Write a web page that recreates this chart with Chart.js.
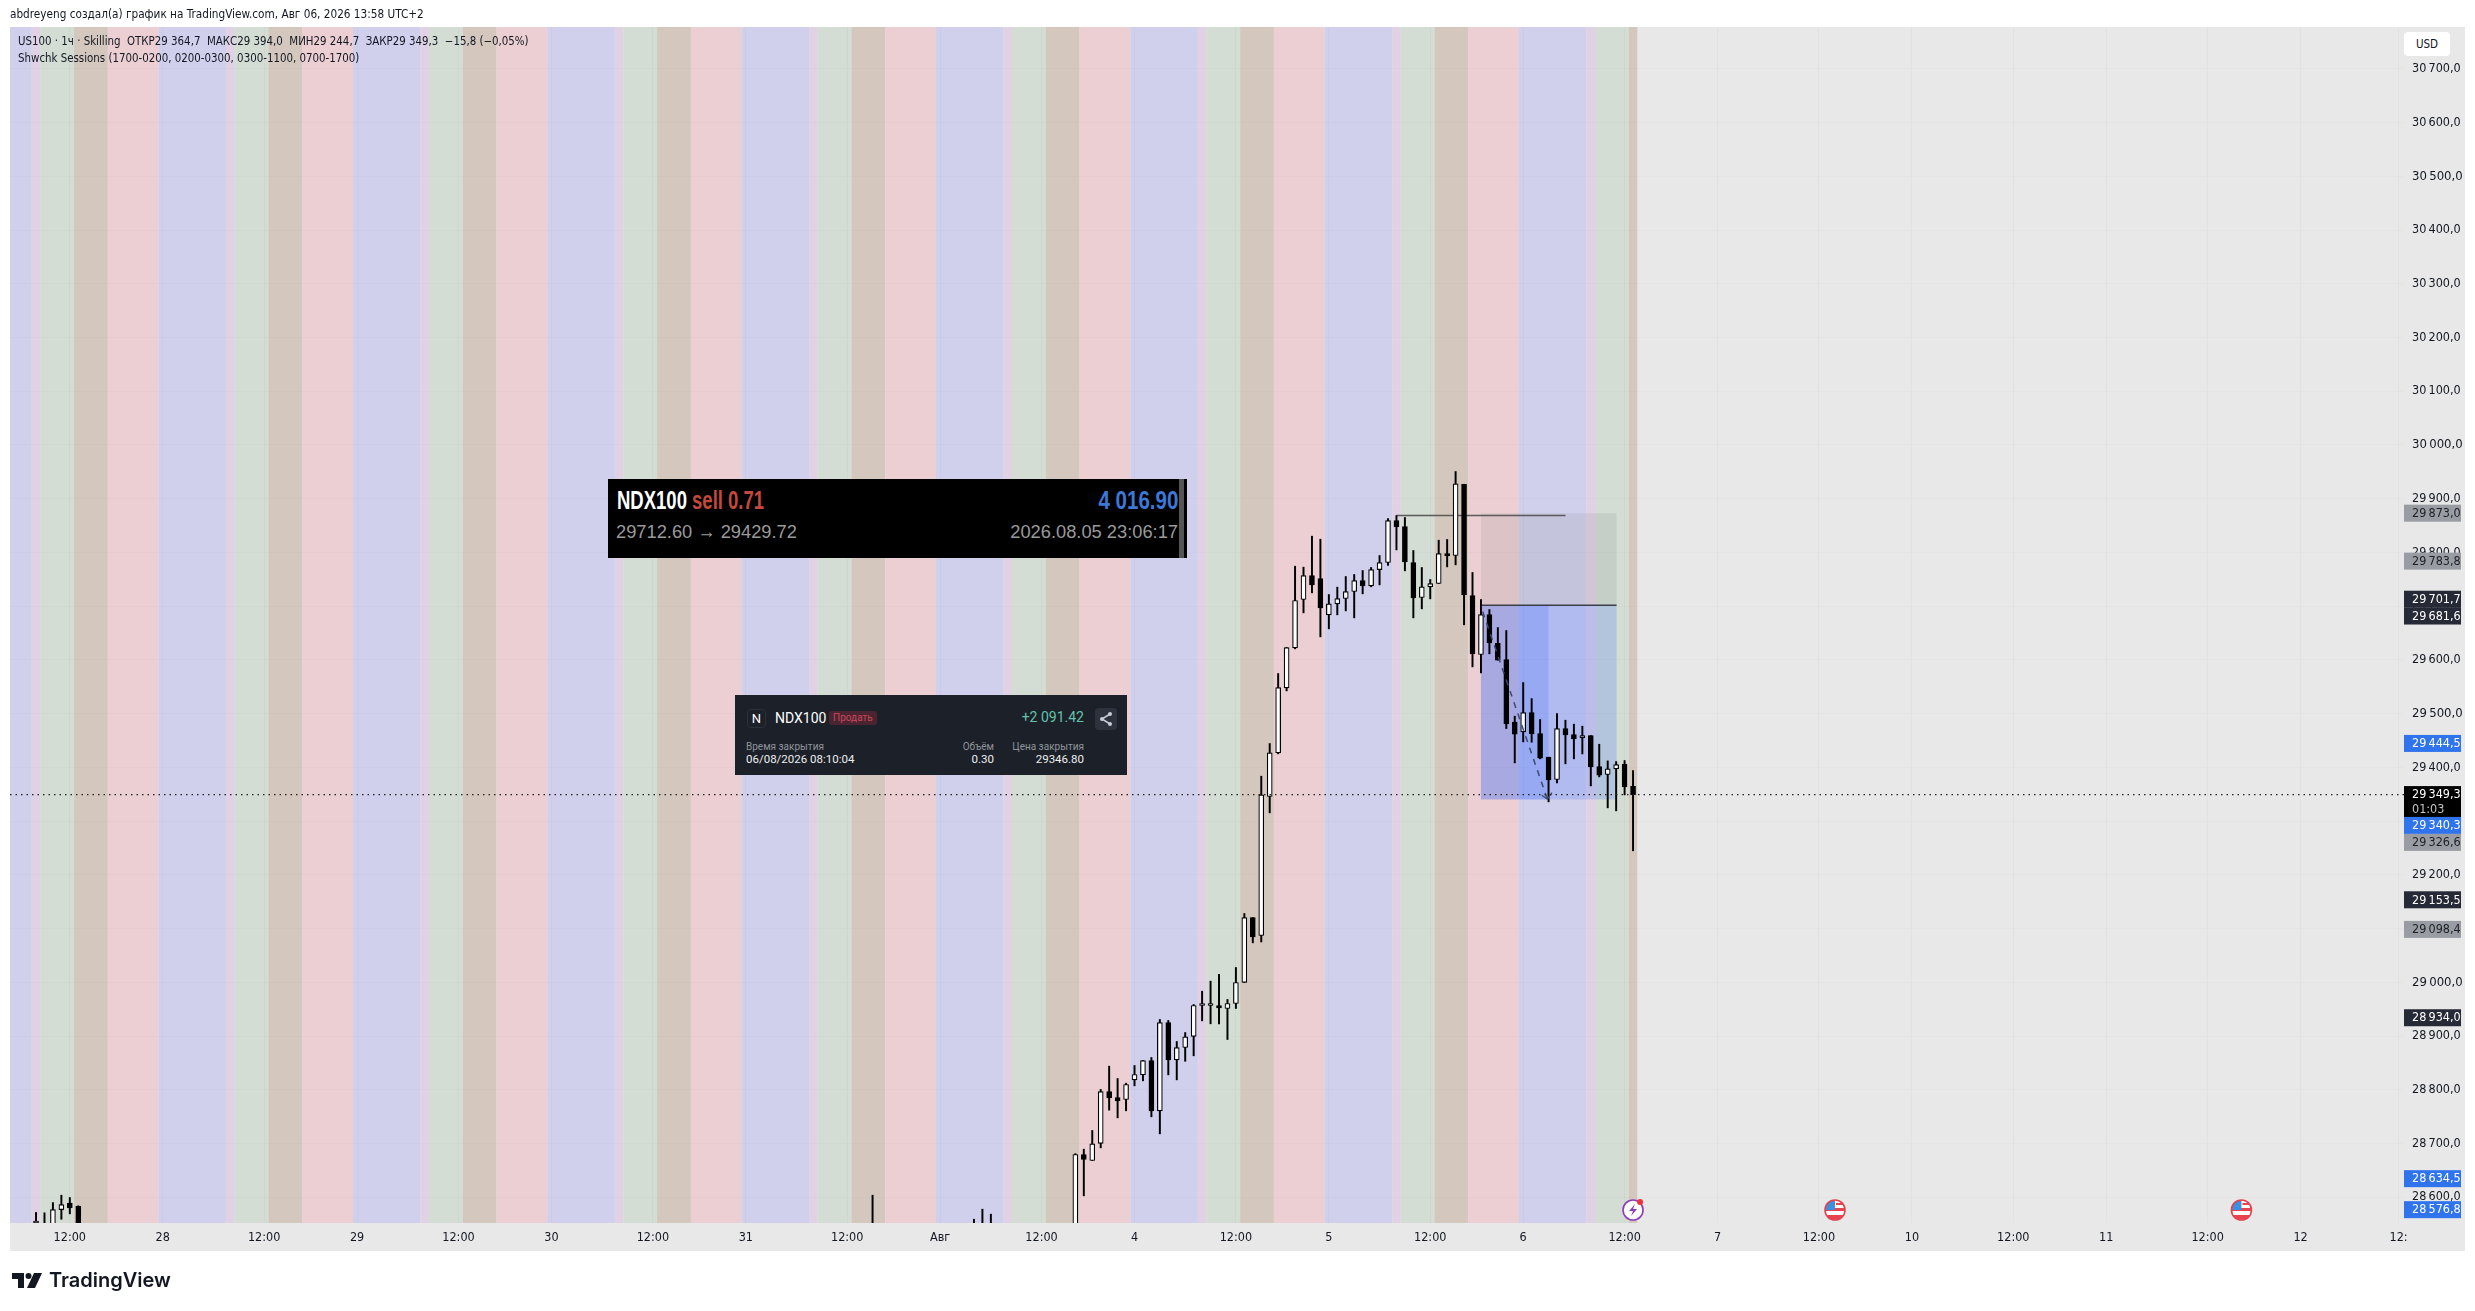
<!doctype html>
<html>

<head>
    <title>US100 1h</title>
    <meta charset="utf-8">
    <script src="https://cdn.jsdelivr.net/npm/chart.js@4/dist/chart.umd.js"></script>
    <style>
    html, body { margin: 0; padding: 0; background: #fff; }
    body { width: 2475px; height: 1311px; position: relative; overflow: hidden; font-family: "DejaVu Sans Condensed", "DejaVu Sans", sans-serif; color: #131722; }
    canvas { position: absolute; left: 0; top: 0; }
    .abs { position: absolute; white-space: pre; line-height: 1; }
    .card1 { position: absolute; left: 608px; top: 479px; width: 579px; height: 79px; background: #000; }
    .card2 { position: absolute; left: 735px; top: 695px; width: 392px; height: 80px; background: #1c2028; }
    .narrow { font-family: "Liberation Sans", sans-serif; font-weight: bold; font-size: 25px; }
    .lib { font-family: "Liberation Sans", sans-serif; font-size: 18.3px; color: #9a9a9a; }
    .rob { font-family: "Roboto", sans-serif; }
    </style>
</head>

<body>
    <canvas id="chart" width="2475" height="1311"></canvas>

    <div class="abs" style="left:10px; top:9px; font-size:11.7px;">abdreyeng создал(а) график на TradingView.com, Авг 06, 2026 13:58 UTC+2</div>
    <div class="abs" style="left:18px; top:36px; font-size:11.4px;">US100 · 1ч · Skilling  ОТКР29 364,7  МАКС29 394,0  МИН29 244,7  ЗАКР29 349,3  −15,8 (−0,05%)</div>
    <div class="abs" style="left:18px; top:53px; font-size:11.4px;">Shwchk Sessions (1700-0200, 0200-0300, 0300-1100, 0700-1700)</div>

    <div class="abs" style="left:2404px; top:32px; width:46px; height:24px; line-height:24px; background:#fff; border-radius:4px; text-align:center; font-size:11.5px;">USD</div>

    <div class="card1">
        <div class="abs" style="right:3px; top:0; width:5px; height:79px; background:#555;"></div>
        <div class="abs narrow" style="left:9px; top:9px; color:#fff; transform:scaleX(0.74); transform-origin:left;">NDX100 <span style="color:#c4493c;">sell 0.71</span></div>
        <div class="abs narrow" style="right:9px; top:9px; color:#3c78d8; transform:scaleX(0.82); transform-origin:right;">4 016.90</div>
        <div class="abs lib" style="left:8px; top:44px;">29712.60 → 29429.72</div>
        <div class="abs lib" style="right:9px; top:44px;">2026.08.05 23:06:17</div>
    </div>

    <div class="card2 rob">
        <div class="abs" style="left:12px; top:14px; width:17px; height:17px; line-height:17px; text-align:center; border:1px solid #2c3038; border-radius:4px; font-size:13px; color:#fff;">N</div>
        <div class="abs" style="left:40px; top:16px; font-size:14px; color:#fff;">NDX100</div>
        <div class="abs" style="left:94px; top:16px; padding:2px 4px; background:#4a2531; border-radius:3px; font-size:10px; color:#c9465a;">Продать</div>
        <div class="abs" style="right:43px; top:15px; font-size:14px; color:#62c3aa;">+2 091.42</div>
        <div class="abs" style="right:10px; top:13px; width:22px; height:22px; background:#2e323c; border-radius:4px;"><svg width="22" height="22" viewBox="0 0 22 22"><path d="M15 6 L7 11 L15 16" fill="none" stroke="#c8ccd4" stroke-width="1.5"/><circle cx="15" cy="6" r="2" fill="#c8ccd4"/><circle cx="7" cy="11" r="2" fill="#c8ccd4"/><circle cx="15" cy="16" r="2" fill="#c8ccd4"/></svg></div>
        <div class="abs" style="left:11px; top:47px; font-size:10px; color:#8f949c;">Время закрытия</div>
        <div class="abs" style="left:11px; top:59px; font-size:11.5px; color:#eceef0;">06/08/2026 08:10:04</div>
        <div class="abs" style="right:133px; top:47px; font-size:10px; color:#8f949c;">Объём</div>
        <div class="abs" style="right:133px; top:59px; font-size:11.5px; color:#eceef0;">0.30</div>
        <div class="abs" style="right:43px; top:47px; font-size:10px; color:#8f949c;">Цена закрытия</div>
        <div class="abs" style="right:43px; top:59px; font-size:11.5px; color:#eceef0;">29346.80</div>
    </div>

    <svg class="abs" style="left:12px; top:1273px;" width="30" height="15" viewBox="0 0 30 15">
        <path d="M0 0 H12 V15 H6 V6 H0 Z" fill="#131722"/><circle cx="16.5" cy="3" r="3" fill="#131722"/><path d="M22 0 H30 L23 15 H15 Z" fill="#131722"/>
    </svg>
    <div class="abs" style="left:49px; top:1270px; font-family:Inter, sans-serif; font-weight:600; font-size:20px; color:#131722;">TradingView</div>

    <script>
    // bars are numbered in trading hours: 0 = 27 Jul 12:00, 185 = 6 Aug 13:00 (23 bars a day)
    var barX = [-4,-3,-2,-1,0,1,95,107,108,109,
        119,120,121,122,123,124,125,126,127,128,129,130,131,132,133,134,135,136,137,138,139,140,141,142,143,144,145,146,147,148,
        149,150,151,152,153,154,155,156,157,158,159,160,161,162,163,164,165,166,167,168,169,170,171,172,173,174,175,176,177,178,179,180,181,182,183,184,185];
    var opens = [28530,28530,28530,28577,28588.9,28583,28530,28530,28530,28530,
        28520,28679.5,28668.3,28700,28796.7,28785.6,28781.8,28818.4,28827.8,28854.4,28760.8,28925.1,28855.7,28878.6,28899.1,28956.8,28956.8,28956.8,28951.2,28960.5,28999.6,29120.5,29087,29345.7,29427,29547.9,29622.4,29712.3,29757,29751.4,
        29683.8,29704.3,29714.2,29727.2,29747.7,29737.7,29768.1,29781.2,29859.3,29848.2,29781.2,29716,29735.9,29742.1,29797.9,29794.2,29926.9,29719.8,29610,29684.4,29631,29600.7,29484,29466,29502,29462.9,29418.9,29377.3,29472.2,29461,29454.8,29459.2,29401.5,29386.6,29397.2,29405.9,29364.7];
    var highs = [28571.6,28571,28590,28603.7,28599.4,28584,28603.7,28559,28577.7,28568.4,
        28681,28689.4,28724.2,28800.5,28843.9,28820.9,28812.2,28845.1,28854.4,28860,28930.7,28928.9,28889.8,28906.5,28958.6,28983.4,29002,29015,28968,29027.5,29128,29120.5,29383.5,29444.3,29574.6,29623,29774.3,29772.5,29830.2,29824.6,
        29721.6,29735.3,29755.1,29758.8,29766.3,29771.9,29794.2,29863,29868.6,29864.9,29803.5,29771.9,29749.5,29822.7,29824,29950.5,29926.9,29762.6,29712.3,29693.7,29660.2,29654.6,29495.2,29557.8,29528,29489,29418.9,29500.1,29487.7,29480.3,29476.6,29459.2,29443,29412,29410.8,29412.7,29394];
    var lows = [28500,28500,28510,28559,28569,28510,28500,28510,28510,28510,
        28500,28602.6,28668.3,28691.9,28762,28747.7,28760.8,28807.3,28816.6,28749.6,28717.9,28827.7,28818.4,28853,28863.1,28928.2,28922.7,28922.7,28893.5,28951.2,28999.6,29073.4,29075,29315.3,29425.1,29542.3,29620.5,29687.5,29724.7,29642.8,
        29657.7,29683.8,29691.2,29678.2,29722.9,29735.9,29739.6,29775.6,29804.7,29765.7,29678.2,29695,29713.6,29742.1,29773.1,29776.8,29665.2,29587,29575.8,29611.2,29599.4,29472.2,29408.3,29447.4,29446.8,29415.8,29335.8,29371.1,29406.5,29415.8,29425,29365.5,29382.3,29324.6,29319,29348.8,29244.7];
    var closes = [28530,28525,28577,28586.4,28580,28530,28520,28525,28525,28525,
        28679.5,28670.2,28699.4,28796.7,28785,28779.4,28809.8,28828.4,28854.4,28760.8,28925.1,28855.7,28878.6,28898.5,28956.8,28957.3,28957.2,28952.4,28960.5,28999.6,29120.5,29084.5,29348.8,29427,29548.5,29623,29710.5,29757,29739.6,29696.8,
        29704.3,29714.2,29727.2,29747.7,29737.7,29768.1,29781.2,29859.3,29847.5,29782.4,29715.4,29735.9,29742.1,29797.9,29793.6,29927.6,29721,29611.2,29684.4,29631.7,29599.4,29480.9,29461.7,29502,29462.3,29417,29376.7,29472.2,29460.4,29453,29459.2,29400.9,29385.4,29397.2,29405.2,29363.7,29349.3];

    var xTickValues = [0,11,23,34,46,57,69,80,92,103,115,126,138,149,161,172,184,195,207,218,230,241,253,264,275.6];
    var xTickLabels = ['12:00','28','12:00','29','12:00','30','12:00','31','12:00','Авг','12:00','4','12:00','5','12:00','6','12:00','7','12:00','10','12:00','11','12:00','12','12:'];
    var yTickValues = [30700,30600,30500,30400,30300,30200,30100,30000,29900,29800,29700,29600,29500,29400,29300,29200,29100,29000,28900,28800,28700,28600];
    // labels hidden by a price tag stay in the list, the tag is drawn over them

    // session colours repeat lavender, pale, green, tan, pink
    var sessionEdges = [-8,-4.5,-3.5,0.5,4.5, 10.5,18.5,19.5,23.5,27.5, 33.5,41.5,42.5,46.5,50.5, 56.5,64.5,65.5,69.5,73.5,
        79.5,87.5,88.5,92.5,96.5, 102.5,110.5,111.5,115.5,119.5, 125.5,133.5,134.5,138.5,142.5, 148.5,156.5,157.5,161.5,165.5,
        171.5,179.5,180.5,184.5,185.5];
    var sessionColours = ['#d0d0ec', '#e0d2e4', '#d3ddd4', '#d4c8be', '#ebcfd2'];

    var lastPrice = 29349.3;
    var tagPrices = [29873.0,29783.8,29701.7,29681.6,29444.5,29349.3,29340.3,29326.6,29153.5,29098.4,28934.0,28634.5,28576.8];
    var tagKinds = ['grey','grey','dark','dark','blue','last','blue','grey','dark','grey','dark','blue','blue'];
    var tagShift = [0,0,-6,0,0,0,26,35.6,0,0,0,0,0];

    var eventX = [185, 208.9, 257];
    var eventKinds = ['bolt', 'flag', 'flag'];

    var xMin = -7.08, xMax = 276.12, yMin = 28552, yMax = 30777.8;

    function priceText(v) {
        var s = v.toFixed(1).replace('.', ',');
        return s.slice(0, 2) + '\u2009' + s.slice(2);
    }

    function flagIcon(c, x, y) {
        c.beginPath(); c.arc(x, y, 10, 0, Math.PI * 2); c.fillStyle = '#fff'; c.fill();
        c.save(); c.beginPath(); c.arc(x, y, 10, 0, Math.PI * 2); c.clip();
        c.fillStyle = '#e8434f'; c.fillRect(x - 10, y - 2, 20, 3); c.fillRect(x - 10, y + 5, 20, 5);
        c.fillRect(x + 1, y - 7, 9, 2);
        c.fillStyle = '#3f8fe0'; c.fillRect(x - 10, y - 10, 10, 10);
        c.restore();
        c.beginPath(); c.arc(x, y, 10, 0, Math.PI * 2); c.strokeStyle = '#e2434f'; c.lineWidth = 1.6; c.stroke();
    }

    function boltIcon(c, x, y) {
        c.beginPath(); c.arc(x, y, 10, 0, Math.PI * 2); c.fillStyle = '#fff'; c.fill();
        c.strokeStyle = '#8e3bb8'; c.lineWidth = 1.6; c.stroke();
        c.beginPath(); c.moveTo(x + 2, y - 6); c.lineTo(x - 4, y + 1); c.lineTo(x, y + 1); c.lineTo(x - 2, y + 6); c.lineTo(x + 4, y - 1); c.lineTo(x, y - 1); c.closePath();
        c.fillStyle = '#8e3bb8'; c.fill();
        c.beginPath(); c.arc(x + 7, y - 8, 3, 0, Math.PI * 2); c.fillStyle = '#f0323c'; c.fill();
    }

    var backdrop = {
        id: 'backdrop',
        beforeDraw: function(chart) {
            var c = chart.ctx, a = chart.chartArea, x = chart.scales.x;
            c.save();
            c.fillStyle = '#e8e8e8';
            c.fillRect(10, a.top, 2455, 1251 - a.top);
            c.beginPath(); c.rect(a.left, a.top, a.right - a.left, a.bottom - a.top); c.clip();
            for (var i = 0; i < sessionEdges.length - 1; i++) {
                var from = x.getPixelForValue(sessionEdges[i]);
                var to = x.getPixelForValue(sessionEdges[i + 1]);
                c.fillStyle = sessionColours[i % 5];
                c.fillRect(from, a.top, to - from, a.bottom - a.top);
            }
            c.restore();
        }
    };

    var zones = {
        id: 'zones',
        beforeDatasetsDraw: function(chart) {
            var c = chart.ctx, x = chart.scales.x, y = chart.scales.y;
            function box(x0, x1, p0, p1, colour) {
                var left = x.getPixelForValue(x0), top = y.getPixelForValue(p0);
                c.fillStyle = colour;
                c.fillRect(left, top, x.getPixelForValue(x1) - left, y.getPixelForValue(p1) - top);
            }
            box(167, 183.05, 29873, 29701.7, 'rgba(100,100,100,0.11)');
            box(167, 183.05, 29701.7, 29340.3, 'rgba(41,98,255,0.19)');
            box(167, 175, 29701.7, 29340.3, 'rgba(41,98,255,0.19)');
        }
    };

    var tagColours = { grey: ['#9a9ca3', '#1c1f26'], dark: ['#262a36', '#fff'], blue: ['#2f74ec', '#fff'], last: ['#000', '#fff'] };

    var priceTags = {
        id: 'priceTags',
        afterDraw: function(chart) {
            var c = chart.ctx, y = chart.scales.y, x = chart.scales.x, a = chart.chartArea;
            c.save();
            for (var n = 0; n < eventX.length; n++) {
                if (eventKinds[n] == 'bolt') boltIcon(c, x.getPixelForValue(eventX[n]), a.bottom - 13);
                else flagIcon(c, x.getPixelForValue(eventX[n]), a.bottom - 13);
            }
            c.font = '12.5px "DejaVu Sans Condensed", "DejaVu Sans", sans-serif';
            c.textBaseline = 'middle';
            c.textAlign = 'left';
            for (var i = 0; i < tagPrices.length; i++) {
                var mid = y.getPixelForValue(tagPrices[i]) + tagShift[i];
                var style = tagColours[tagKinds[i]];
                var tall = tagKinds[i] == 'last';
                c.fillStyle = style[0];
                c.fillRect(2404, mid - 8.5, 57, tall ? 31 : 17);
                c.fillStyle = style[1];
                c.fillText(priceText(tagPrices[i]), 2412, mid + 0.5);
                if (tall) {
                    c.fillStyle = '#c4c4c4';
                    c.fillText('01:03', 2412, mid + 15);
                }
            }
            c.restore();
        }
    };

    var wickData = [], bodyData = [], bodyFill = [];
    for (var i = 0; i < barX.length; i++) {
        wickData.push({ x: barX[i], y: [lows[i], highs[i]] });
        bodyData.push({ x: barX[i], y: [opens[i], closes[i]] });
        bodyFill.push(closes[i] >= opens[i] ? '#ffffff' : '#000000');
    }

    new Chart(document.getElementById('chart').getContext('2d'), {
        type: 'bar',
        plugins: [backdrop, zones, priceTags],
        data: {
            datasets: [
                {
                    type: 'line', order: 1, data: [{ x: xMin, y: lastPrice }, { x: xMax + 3, y: lastPrice }],
                    borderColor: '#222', borderWidth: 1.3, borderDash: [1.5, 4], pointRadius: 0, clip: false
                },
                {
                    type: 'line', order: 2, data: [{ x: 167.2, y: 29690 }, { x: 174.85, y: 29341 }],
                    borderColor: '#3d4a6e', borderWidth: 1.5, borderDash: [6, 6], pointRadius: 0
                },
                {
                    type: 'line', order: 2, data: [{ x: 174.2, y: 29348 }, { x: 174.85, y: 29341 }, { x: 175.4, y: 29353 }],
                    borderColor: '#3d4a6e', borderWidth: 1.3, pointRadius: 0
                },
                {
                    type: 'line', order: 6, data: [{ x: 157, y: 29868.6 }, { x: 177, y: 29868.6 }],
                    borderColor: '#5a5a5a', borderWidth: 1.5, pointRadius: 0
                },
                {
                    type: 'line', order: 6, data: [{ x: 167, y: 29701.7 }, { x: 183.05, y: 29701.7 }],
                    borderColor: '#3a3f48', borderWidth: 1.5, pointRadius: 0
                },
                {
                    order: 3, grouped: false, data: bodyData, barThickness: 5, minBarLength: 2,
                    backgroundColor: bodyFill, borderColor: '#000', borderWidth: 1.2, borderSkipped: false
                },
                {
                    order: 4, grouped: false, data: wickData, barThickness: 1.3,
                    backgroundColor: '#000', borderWidth: 0
                }
            ]
        },
        options: {
            responsive: false,
            animation: false,
            events: [],
            layout: { padding: { top: 27, left: 10, right: 10, bottom: 60 } },
            plugins: { legend: { display: false }, tooltip: { enabled: false }, title: { display: false } },
            scales: {
                x: {
                    type: 'linear', min: xMin, max: xMax, offset: false,
                    afterBuildTicks: function(scale) {
                        scale.ticks = xTickValues.map(function(v) { return { value: v }; });
                    },
                    afterFit: function(scale) { scale.height = 28; },
                    grid: { color: 'rgba(0,0,0,0.022)', drawTicks: false, offset: false },
                    border: { display: false },
                    ticks: {
                        autoSkip: false, maxRotation: 0, padding: 7, color: '#131722',
                        font: { family: '"DejaVu Sans Condensed", "DejaVu Sans", sans-serif', size: 12.5 },
                        callback: function(v) { return xTickLabels[xTickValues.indexOf(v)]; }
                    }
                },
                y: {
                    position: 'right', min: yMin, max: yMax,
                    afterBuildTicks: function(scale) {
                        scale.ticks = yTickValues.map(function(v) { return { value: v }; });
                    },
                    afterFit: function(scale) { scale.width = 62; },
                    grid: { color: 'rgba(0,0,0,0.015)', drawTicks: false },
                    border: { display: false },
                    ticks: {
                        padding: 9, color: '#131722', autoSkip: false,
                        font: function(ctx) {
                            var big = ctx.tick && ctx.tick.value % 500 == 0;
                            return { family: '"DejaVu Sans Condensed", "DejaVu Sans", sans-serif', size: big ? 13 : 12.5 };
                        },
                        callback: function(v) { return priceText(v); }
                    }
                }
            }
        }
    });
    </script>
</body>

</html>
